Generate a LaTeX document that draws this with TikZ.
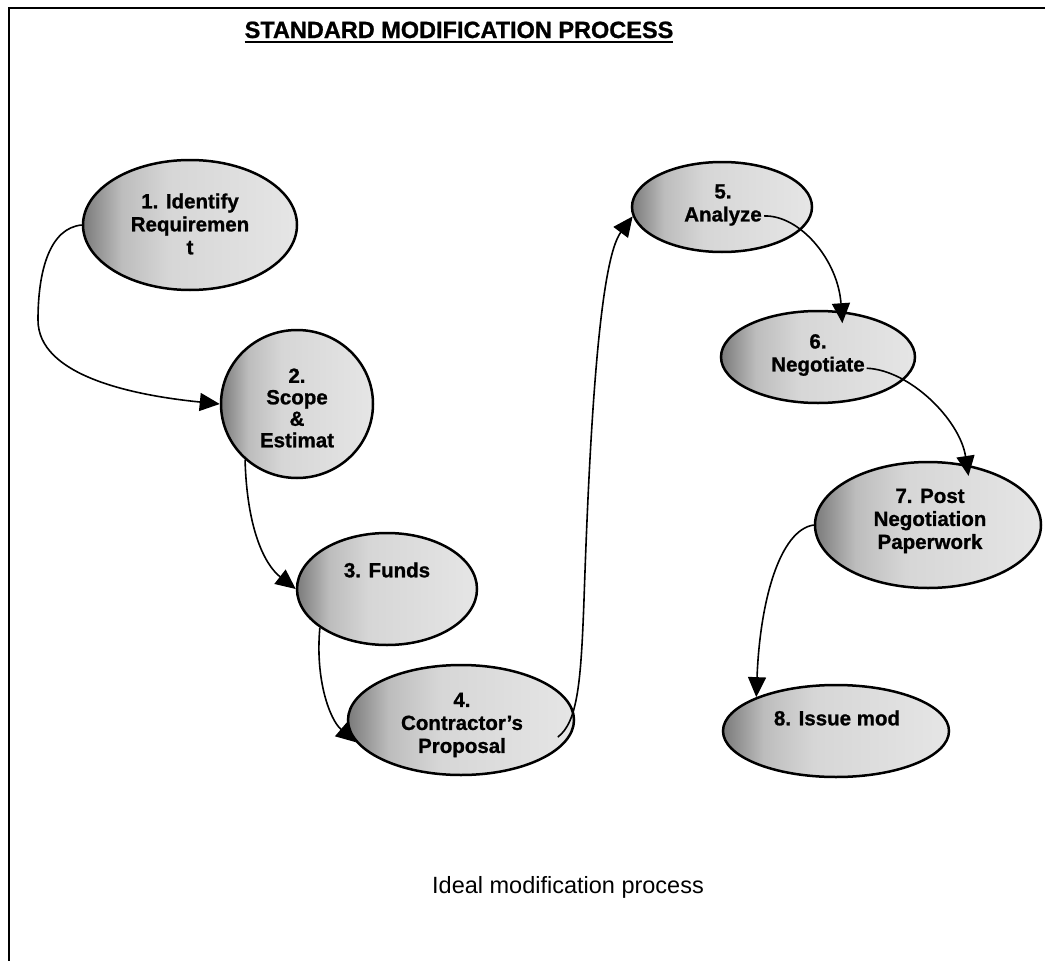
\documentclass[tikz,border=0pt]{standalone}
\usepackage{fontspec}
\setmainfont{Liberation Sans}
\newfontface\stepfont{Liberation Sans Bold}[FakeBold=1]
\usetikzlibrary{shapes.geometric,arrows.meta,calc}

% light grey fill that darkens towards the left rim of each step
\pgfdeclarehorizontalshading{stepshade}{100bp}{%
  color(0bp)=(black!52); color(25bp)=(black!52); color(34bp)=(black!26);
  color(45bp)=(black!16); color(75bp)=(black!10); color(100bp)=(black!10)}

\begin{document}
\begin{tikzpicture}[x=1pt,y=-1pt,
  stepnode/.style={ellipse, draw=black, line width=2.5pt, inner sep=0pt,
    shading=stepshade},
  steptext/.style={font=\fontsize{20.5}{23}\stepfont, align=center, inner sep=0pt},
  flow/.style={line width=1.6pt, -{Triangle[length=20pt,width=18pt]}}
]
\useasboundingbox (0,0) rectangle (1045,961);

% frame: top and left rules only
\draw[line width=2pt] (9,961) -- (9,8) -- (1045,8);

% heading and caption
\node[font=\fontsize{23.5}{28}\stepfont, inner sep=0pt, anchor=base] (title) at (459,38)
  {\vtop{\hbox{STANDARD MODIFICATION PROCESS}\kern3pt\hrule height 2pt}};
\node[font=\fontsize{23.5}{28}\selectfont, inner sep=0pt, anchor=base] (caption) at (568,893)
  {Ideal modification process};

% process steps
\node[stepnode, minimum width=214pt, minimum height=130pt] (s1) at (190,225) {};
\node[stepnode, minimum width=152pt, minimum height=148pt] (s2) at (297,404) {};
\node[stepnode, minimum width=180pt, minimum height=112pt] (s3) at (387,589) {};
\node[stepnode, minimum width=226pt, minimum height=110pt] (s4) at (461,720) {};
\node[stepnode, minimum width=180pt, minimum height=90pt]  (s5) at (722,207) {};
\node[stepnode, minimum width=194pt, minimum height=92pt]  (s6) at (818,357) {};
\node[stepnode, minimum width=226pt, minimum height=126pt] (s7) at (928,525) {};
\node[stepnode, minimum width=226pt, minimum height=92pt]  (s8) at (836,731) {};

\node[steptext] (t1) at (190,224) {1. Identify\\Requiremen\\t};
\node[steptext, font=\fontsize{20.5}{21.5}\stepfont] (t2) at (297,408) {2.\\Scope\\\&\\Estimat};
\node[steptext] (t3) at (387,570) {3. Funds};
\node[steptext] (t4) at (462,725) {4.\\Contractor’s\\Proposal};
\node[steptext] (t5) at (723,205) {5.\\Analyze};
\node[steptext] (t6) at (818,355) {6.\\Negotiate};
\node[steptext] (t7) at (930,521) {7. Post\\Negotiation\\Paperwork};
\node[steptext] (t8) at (837,718) {8. Issue mod};

% flow between the steps
\draw[flow] (s1.west) .. controls (50,228) and (38,270) .. (38,320)
  .. controls (38,375) and (130,395) .. (s2.west);
\draw[flow] (s2.227) .. controls (247,530) and (265,565) .. (s3.west);
\draw[flow] (s3.210) .. controls (315,680) and (330,720) .. (s4.192);
\draw[flow] ($(s4.center)!0.9!(s4.-10)$) .. controls (578,722) and (581,680) .. (584,600)
  .. controls (590,420) and (600,260) .. (s5.186);
\draw[flow] ($(s5.center)!0.5!(s5.-12)$) .. controls (800,215) and (838,260) .. ([yshift=-12pt]s6.62);
\draw[flow] ($(s6.center)!0.55!(s6.-13)$) .. controls (910,370) and (960,420) .. ([yshift=-11pt]s7.56);
\draw[flow] (s7.west) .. controls (780,530) and (760,600) .. (s8.157);
\end{tikzpicture}
\end{document}
